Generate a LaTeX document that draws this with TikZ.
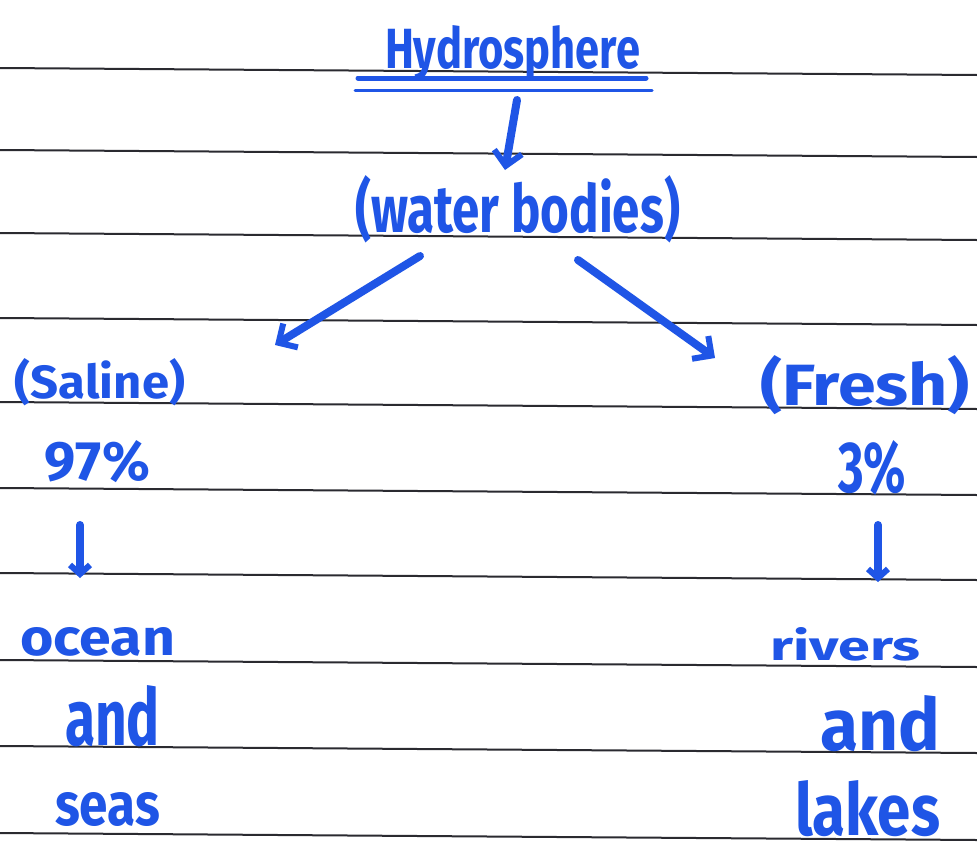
\documentclass[tikz,border=0pt]{standalone}
\usepackage{fontspec}
\setmainfont{Fira Sans}
\usetikzlibrary{arrows.meta}
\definecolor{ink}{HTML}{1F55E6}
\definecolor{rule}{HTML}{2A2A30}
\newcommand{\hwtext}[3]{\resizebox{#1pt}{#2pt}{\bfseries #3}}
\tikzset{
  hw/.style={anchor=base west, inner sep=0pt, outer sep=0pt, text=ink},
  ruleline/.style={draw=rule, line width=2pt},
  inkarrow/.style={draw=ink, line width=8pt, line cap=round, line join=round,
    -{Straight Barb[length=14pt, width=28pt, line width=6pt]}},
  smallarrow/.style={draw=ink, line width=8pt, line cap=round,
    -{Straight Barb[length=9pt, width=20pt, line width=6pt]}},
  uline/.style={draw=ink, line cap=round}
}
\begin{document}
\begin{tikzpicture}[x=1pt,y=-1pt]
\useasboundingbox (0,0) rectangle (977,854);
\fill[white] (0,0) rectangle (977,854);
% ruled lines (slightly sloped)
\foreach \yy in {68,150,233,318,402,488,573,660,746,833}
  \draw[ruleline] (0,\yy) -- (977,\yy+7);
% texts
\node[hw] (hyd) at (385,68) {\hwtext{255}{43}{Hydrosphere}};
\node[hw] (wb) at (355,232) {\hwtext{325}{57}{(water bodies)}};
\node[hw] (sal) at (15,398) {\hwtext{170}{40}{(Saline)}};
\node[hw] (p97) at (45,480) {\hwtext{105}{40}{97\%}};
\node[hw] (ocean) at (20,655) {\hwtext{155}{28}{ocean}};
\node[hw] (andl) at (65,745) {\hwtext{95}{60}{and}};
\node[hw] (seas) at (55,825) {\hwtext{105}{33}{seas}};
\node[hw] (fresh) at (760,405) {\hwtext{210}{50}{(Fresh)}};
\node[hw] (p3) at (838,492) {\hwtext{68}{52}{3\%}};
\node[hw] (rivers) at (770,660) {\hwtext{150}{33}{rivers}};
\node[hw] (andr) at (820,750) {\hwtext{120}{55}{and}};
\node[hw] (lakes) at (795,835) {\hwtext{145}{55}{lakes}};
% underlines of the title
\draw[uline, line width=5pt] ([xshift=-27pt,yshift=-10pt]hyd.base west) -- ([xshift=6pt,yshift=-10pt]hyd.base east);
\draw[uline, line width=3pt] ([xshift=-30pt,yshift=-22pt]hyd.base west) -- ([xshift=12pt,yshift=-22pt]hyd.base east);
% connector ends
\coordinate (a1s) at (517,100);
\coordinate (a1e) at (505,170);
\coordinate (a2s) at (420,256);
\coordinate (a2e) at (275,345);
\coordinate (a3s) at (578,260);
\coordinate (a3e) at (715,358);
\coordinate (a4s) at (80,525);
\coordinate (a4e) at (80,578);
\coordinate (a5s) at (878,525);
\coordinate (a5e) at (878,582);
\draw[inkarrow] (a1s) -- (a1e);
\draw[inkarrow] (a2s) -- (a2e);
\draw[inkarrow] (a3s) -- (a3e);
\draw[smallarrow] (a4s) -- (a4e);
\draw[smallarrow] (a5s) -- (a5e);
\end{tikzpicture}
\end{document}
